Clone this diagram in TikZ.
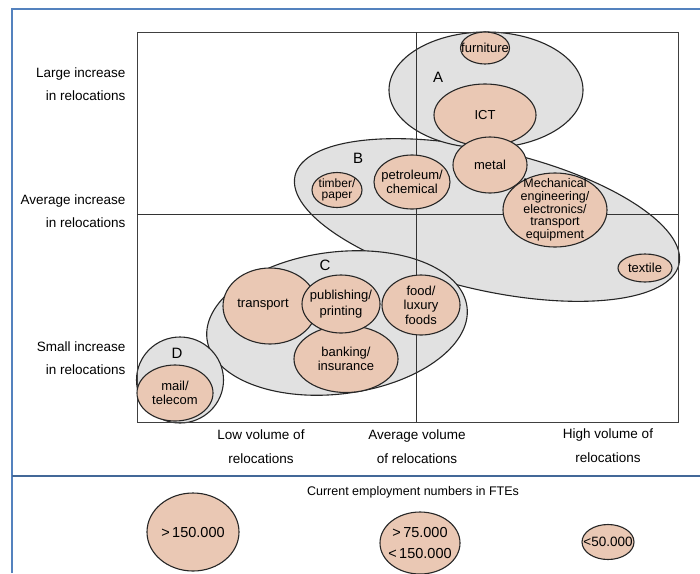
\documentclass[tikz,border=0pt]{standalone}
\usepackage{fontspec}
\setmainfont{Liberation Sans}
\usetikzlibrary{shapes.geometric}

\definecolor{peach}{RGB}{234,200,180}
\definecolor{cloud}{RGB}{225,225,225}
\definecolor{frameblue}{RGB}{84,130,190}

\tikzset{
  cluster/.style={ellipse, draw=black!85, line width=1.1pt, fill=cloud, inner sep=0pt},
  sector/.style={ellipse, draw=black!85, line width=1.1pt, fill=peach, inner sep=0pt},
  sectortxt/.style={align=center, inner sep=0pt, font=\fontsize{13}{14.5}\selectfont},
  grouplbl/.style={font=\fontsize{15}{15}\selectfont},
  ylbl/.style={align=right, anchor=east, font=\fontsize{13.5}{23}\selectfont},
  xlbl/.style={align=center, font=\fontsize{13.5}{24}\selectfont},
}

\begin{document}
\begin{tikzpicture}[x=1pt, y=-1pt]
  \useasboundingbox (0,0) rectangle (700,573);
  % frame
  \draw [frameblue, line width=1.5pt] (12,573) -- (12,9) -- (700,9);
  \draw [frameblue!80!black, line width=1.2pt] (12,476) -- (700,476);
  % Clusters
  \node [cluster, minimum width=394pt, minimum height=140pt, rotate=-13] (clB) at (487,220) {};
  \node [cluster, minimum width=194pt, minimum height=116pt] (clA) at (486,90) {};
  \node [cluster, minimum width=262pt, minimum height=142pt, rotate=7] (clC) at (337,323) {};
  \node [cluster, minimum width=87pt, minimum height=86pt] (clD) at (180,380) {};
  % Quadrants
  \coordinate (nw) at (137,32);
  \coordinate (se) at (678,422);
  \draw [black!75, line width=0.9pt] (nw) rectangle (se);
  \draw [black!80, line width=0.9pt] (416,32) -- (416,422);
  \draw [black!80, line width=0.9pt] (137,214) -- (678,214);
  % Cluster A
  \node [sector, minimum width=49pt, minimum height=32pt, label={[sectortxt]center:furniture}] (furniture) at (485,48) {};
  \node [sector, minimum width=102pt, minimum height=62pt, label={[sectortxt]center:ICT}] (ict) at (485,115) {};
  \node [sector, minimum width=74pt, minimum height=56pt, label={[sectortxt]center:metal}] (metal) at (490,165) {};
  % Cluster B
  \node [sector, minimum width=50pt, minimum height=35pt, label={[sectortxt, font=\fontsize{12}{11}\selectfont]center:timber/\\paper}] (timber) at (337,190) {};
  \node [sector, minimum width=76pt, minimum height=54pt, label={[sectortxt]center:petroleum/\\chemical}] (petro) at (412,182) {};
  \node [sector, minimum width=104pt, minimum height=74pt, label={[sectortxt, font=\fontsize{12.5}{12.7}\selectfont]center:Mechanical\\engineering/\\electronics/\\transport\\equipment}] (mech) at (555,210) {};
  \node [sector, minimum width=54pt, minimum height=28pt, label={[sectortxt]center:textile}] (textile) at (645,268) {};
  % Cluster C
  \node [sector, minimum width=94pt, minimum height=76pt] (transport) at (270,306) {};
  \node [sectortxt] (transporttxt) at (263,305) {transport};
  \node [sector, minimum width=104pt, minimum height=67pt, label={[sectortxt]center:banking/\\insurance}] (banking) at (346,359) {};
  \node [sector, minimum width=78pt, minimum height=58pt, label={[sectortxt, font=\fontsize{13}{16}\selectfont]center:publishing/\\printing}] (publishing) at (341,304) {};
  \node [sector, minimum width=78pt, minimum height=60pt, label={[sectortxt]center:food/\\luxury\\foods}] (food) at (421,305) {};
  % Cluster D
  \node [sector, minimum width=76pt, minimum height=56pt, label={[sectortxt]center:mail/\\telecom}] (mail) at (175,393) {};
  % Group letters
  \node [grouplbl] (lblA) at (438,77) {A};
  \node [grouplbl] (lblB) at (358,158) {B};
  \node [grouplbl] (lblC) at (325,265) {C};
  \node [grouplbl] (lblD) at (177,353) {D};
  % Axis labels
  \node [ylbl] (ylarge) at (129,84) {Large increase\\in relocations};
  \node [ylbl] (yavg) at (129,211) {Average increase\\in relocations};
  \node [ylbl] (ysmall) at (129,358) {Small increase\\in relocations};
  \node [xlbl] (xlow) at (261,447) {Low volume of\\relocations};
  \node [xlbl] (xavg) at (417,447) {Average volume\\of relocations};
  \node [xlbl] (xhigh) at (608,446) {High volume of\\relocations};
  % Legend
  \node [xlbl, font=\fontsize{12.5}{12.5}\selectfont] (legend) at (413,492) {Current employment numbers in FTEs};
  \node [sector, minimum width=92pt, minimum height=78pt, label={[sectortxt, font=\fontsize{14.5}{14.5}\selectfont]center:>\,150.000}] (big) at (193,532) {};
  \node [sector, minimum width=80pt, minimum height=62pt, label={[sectortxt, font=\fontsize{14.5}{21}\selectfont]center:>\,75.000\\<\,150.000}] (medium) at (420,543) {};
  \node [sector, minimum width=52pt, minimum height=35pt, label={[sectortxt, font=\fontsize{13.5}{13.5}\selectfont]center:<50.000}] (small) at (608,542) {};
\end{tikzpicture}
\end{document}
